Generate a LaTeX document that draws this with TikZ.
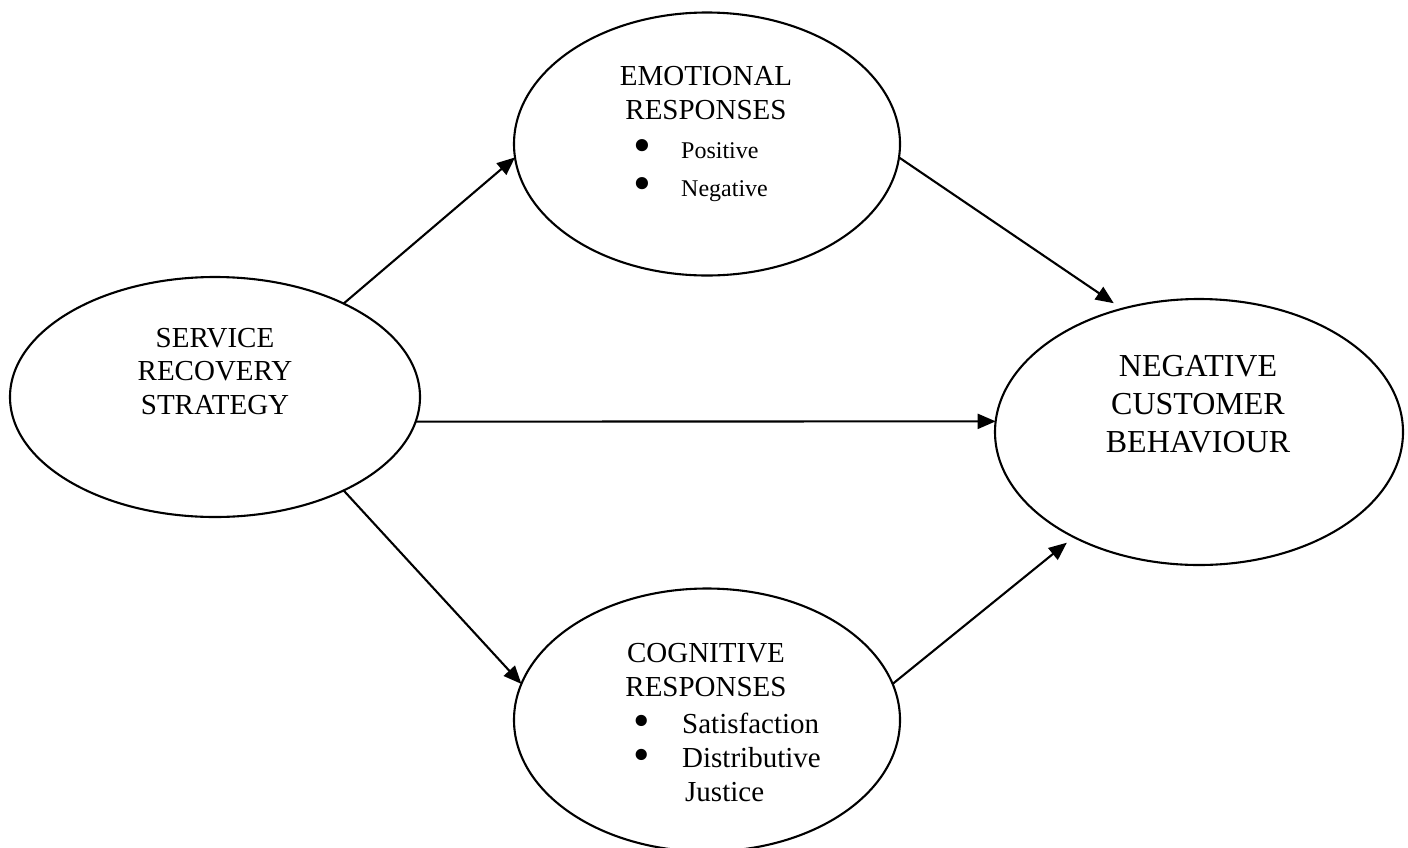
\documentclass[tikz,border=0pt]{standalone}
\usepackage{fontspec}
\setmainfont{Liberation Serif}
\usetikzlibrary{arrows.meta,shapes.geometric}
\newcommand\mybul[3]{\makebox[#2pt][l]{\hspace*{-2pt}\smash{\raisebox{#3pt}{\fontsize{#1}{#1}\selectfont •}}}}
\begin{document}
\begin{tikzpicture}[x=1pt,y=-1pt,
  oval/.style={draw,ellipse,line width=2.1pt,inner sep=0pt,outer sep=0pt},
  conn/.style={line width=2.1pt,-{Triangle[length=18pt,width=15pt]}},
  ttl/.style={anchor=base,align=center,inner sep=0pt,font=\fontsize{29}{33.5}\selectfont},
  lst/.style={anchor=base west,align=left,inner sep=0pt}]
\useasboundingbox (0,0) rectangle (1408,847);
\node[oval,minimum width=410pt,minimum height=240pt] (srs) at (215,397) {};
\node[oval,minimum width=386pt,minimum height=263pt] (emo) at (707,144) {};
\node[oval,minimum width=386pt,minimum height=263pt] (cog) at (707,720) {};
\node[oval,minimum width=408pt,minimum height=266pt] (neg) at (1199,432) {};
\node[ttl] (srst) at (215,414) {SERVICE\\RECOVERY\\STRATEGY};
\node[ttl] (emot) at (706,119) {EMOTIONAL\\RESPONSES};
\node[lst,font=\fontsize{24}{38}\selectfont] (emol) at (635,196) {\mybul{51}{46}{-4.8}Positive\\\mybul{51}{46}{-4.8}Negative};
\node[ttl] (cogt) at (706,696) {COGNITIVE\\RESPONSES};
\node[lst,font=\fontsize{29}{34}\selectfont] (cogl) at (635,801) {\mybul{47}{47}{-3.6}Satisfaction\\\mybul{47}{47}{-3.6}Distributive\\\hspace*{50pt}Justice};
\node[ttl,font=\fontsize{32}{38}\selectfont] (negt) at (1198,452) {NEGATIVE\\CUSTOMER\\BEHAVIOUR};
\draw[conn] (srs.36) -- (emo.184);
\draw[conn,shorten >=10pt] (emo.-4) -- (neg.122);
\draw[conn] (srs.-7) -- (neg.177);
\draw[conn] (srs.-36) -- (cog.169);
\draw[conn,shorten >=9pt] (cog.11) -- (neg.220);
\end{tikzpicture}
\end{document}
